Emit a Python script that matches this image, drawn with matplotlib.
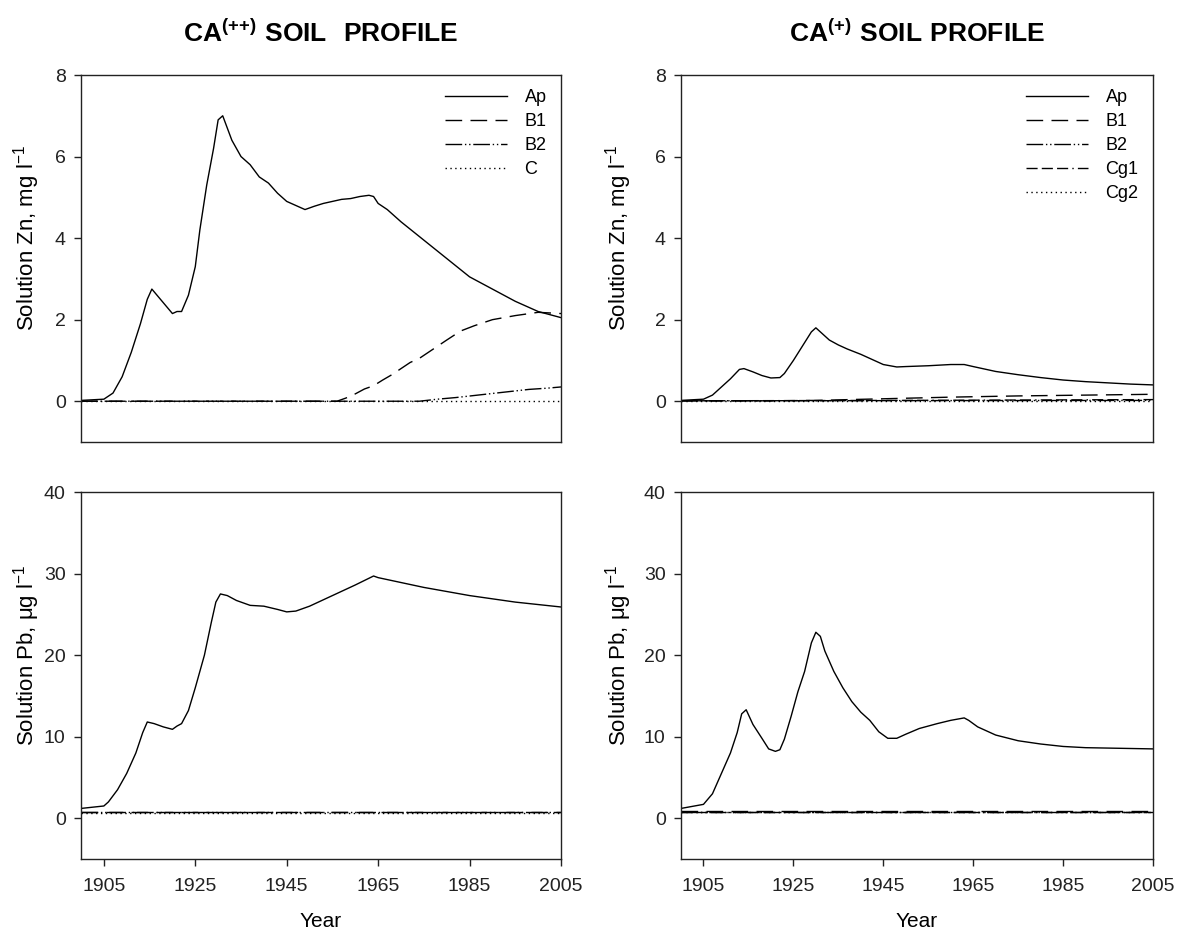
import matplotlib
matplotlib.use("Agg")
import matplotlib.pyplot as plt

plt.rcParams["font.family"] = ["Liberation Sans", "DejaVu Sans"]
plt.rcParams["mathtext.fontset"] = "custom"
plt.rcParams["mathtext.rm"] = "Liberation Sans"
plt.rcParams["mathtext.bf"] = "Liberation Sans:bold"

# ── Data ──────────────────────────────────────────────────────────────────────

# CA(++) – solution Zn, Ap horizon
zn_pp_ap_year = [1900, 1905, 1907, 1909, 1911, 1913, 1914.5, 1915.5, 1917, 1918.5,
                 1920, 1921, 1922, 1923.5, 1925, 1926, 1927.5, 1929, 1930, 1931,
                 1932, 1933, 1935, 1937, 1939, 1941, 1943, 1945, 1947, 1949, 1951,
                 1953, 1955, 1957, 1959, 1961, 1963, 1964, 1965, 1967, 1970, 1975,
                 1980, 1985, 1990, 1995, 2000, 2005]
zn_pp_ap = [0.02, 0.05, 0.2, 0.6, 1.2, 1.9, 2.5, 2.75, 2.55, 2.35,
            2.15, 2.2, 2.2, 2.6, 3.3, 4.2, 5.3, 6.2, 6.9, 7.0,
            6.7, 6.4, 6.0, 5.8, 5.5, 5.35, 5.1, 4.9, 4.8, 4.7, 4.78,
            4.85, 4.9, 4.95, 4.97, 5.02, 5.05, 5.02, 4.85, 4.7, 4.4, 3.95,
            3.5, 3.05, 2.75, 2.45, 2.2, 2.05]
zn_pp_b1_year = [1900, 1956, 1958, 1960, 1962, 1964, 1966, 1968, 1970, 1972, 1974,
                 1976, 1978, 1980, 1983, 1986, 1990, 1995, 2000, 2005]
zn_pp_b1 = [0.0, 0.0, 0.08, 0.18, 0.3, 0.38, 0.52, 0.65, 0.8, 0.95, 1.05,
            1.2, 1.35, 1.5, 1.72, 1.85, 2.0, 2.1, 2.18, 2.15]
zn_pp_b2_year = [1900, 1974, 1978, 1982, 1986, 1990, 1994, 1998, 2002, 2005]
zn_pp_b2 = [0.0, 0.0, 0.05, 0.09, 0.14, 0.19, 0.24, 0.29, 0.32, 0.35]
zn_pp_c_year = [1900, 2005]
zn_pp_c = [0.0, 0.0]

# CA(+) – solution Zn
zn_p_ap_year = [1900, 1905, 1907, 1909, 1911, 1913, 1914, 1916, 1918, 1920, 1922,
                1923, 1925, 1927, 1929, 1930, 1931, 1933, 1935, 1937, 1940, 1943,
                1945, 1948, 1950, 1955, 1960, 1963, 1965, 1970, 1975, 1980, 1985,
                1990, 1995, 2000, 2005]
zn_p_ap = [0.02, 0.05, 0.15, 0.35, 0.55, 0.78, 0.8, 0.72, 0.63, 0.57, 0.58,
           0.68, 1.0, 1.35, 1.7, 1.8, 1.7, 1.5, 1.38, 1.28, 1.15, 1.0,
           0.9, 0.84, 0.85, 0.87, 0.9, 0.9, 0.85, 0.73, 0.65, 0.58, 0.52,
           0.48, 0.45, 0.42, 0.4]
zn_p_b1_year = [1900, 1920, 1930, 1945, 1960, 1975, 1990, 2005]
zn_p_b1 = [0.01, 0.01, 0.02, 0.06, 0.1, 0.13, 0.15, 0.17]
zn_p_b2_year = [1900, 2005]
zn_p_b2 = [0.01, 0.02]
zn_p_cg1_year = [1900, 1950, 2005]
zn_p_cg1 = [0.01, 0.02, 0.04]
zn_p_cg2_year = [1900, 2005]
zn_p_cg2 = [0.0, 0.0]

# CA(++) – solution Pb
pb_pp_ap_year = [1900, 1905, 1906, 1908, 1910, 1912, 1913.5, 1914.5, 1916, 1918,
                 1920, 1921, 1922, 1923.5, 1925, 1927, 1928.5, 1929.5, 1930.5, 1932,
                 1934, 1937, 1940, 1943, 1945, 1947, 1950, 1955, 1960, 1964, 1965,
                 1970, 1975, 1980, 1985, 1990, 1995, 2000, 2005]
pb_pp_ap = [1.2, 1.5, 2.0, 3.5, 5.5, 8.0, 10.5, 11.8, 11.6, 11.2,
            10.9, 11.3, 11.6, 13.2, 16.0, 20.0, 24.0, 26.5, 27.5, 27.3,
            26.7, 26.1, 26.0, 25.6, 25.3, 25.4, 26.0, 27.3, 28.6, 29.7, 29.5,
            28.9, 28.3, 27.8, 27.3, 26.9, 26.5, 26.2, 25.9]
pb_pp_low_year = [1900, 2005]
pb_pp_b1 = [0.75, 0.75]
pb_pp_b2 = [0.75, 0.75]
pb_pp_c = [0.7, 0.7]

# CA(+) – solution Pb
pb_p_ap_year = [1900, 1905, 1907, 1909, 1911, 1912.5, 1913.5, 1914.5, 1916, 1918,
                1919.5, 1921, 1922, 1923, 1924.5, 1926, 1927.5, 1929, 1930, 1931,
                1932, 1934, 1936, 1938, 1940, 1942, 1944, 1946, 1948, 1950, 1953,
                1957, 1960, 1963, 1964, 1966, 1970, 1975, 1980, 1985, 1990, 1995,
                2000, 2005]
pb_p_ap = [1.2, 1.7, 3.0, 5.5, 8.0, 10.5, 12.8, 13.3, 11.5, 9.8,
           8.5, 8.2, 8.4, 9.7, 12.5, 15.5, 18.0, 21.5, 22.8, 22.3,
           20.5, 18.0, 16.0, 14.3, 13.0, 12.0, 10.6, 9.8, 9.8, 10.3, 11.0,
           11.6, 12.0, 12.3, 12.0, 11.2, 10.2, 9.5, 9.1, 8.8, 8.65, 8.6,
           8.55, 8.5]
pb_p_low_year = [1900, 2005]
pb_p_b1 = [0.85, 0.85]
pb_p_b2 = [0.8, 0.8]
pb_p_cg1 = [0.8, 0.8]
pb_p_cg2 = [0.75, 0.75]

year_ticks = [1905, 1925, 1945, 1965, 1985, 2005]

# ── Line styles ───────────────────────────────────────────────────────────────

STY = {
    "Ap":  "-",
    "B1":  (0, (12, 6)),
    "B2":  (0, (12, 2, 1, 2, 1, 2)),
    "C":   (0, (1, 2.5)),
    "Cg1": (0, (8, 3, 8, 3, 8, 3, 1, 3)),
    "Cg2": (0, (1, 2.5)),
}

fig = plt.figure(figsize=(11.81, 9.32), dpi=100)
W, H = 1181, 932


def make_ax(x0, x1, y0, y1):
    return fig.add_axes([x0 / W, 1 - y1 / H, (x1 - x0) / W, (y1 - y0) / H])


ax_zn_pp = make_ax(81, 561, 75, 442)
ax_zn_p = make_ax(681, 1153, 75, 442)
ax_pb_pp = make_ax(81, 561, 492, 859)
ax_pb_p = make_ax(681, 1153, 492, 859)

lw = 1.0
c = "black"

# Zn panels
ax_zn_pp.plot(zn_pp_ap_year, zn_pp_ap, color=c, lw=lw, ls=STY["Ap"], label="Ap")
ax_zn_pp.plot(zn_pp_b1_year, zn_pp_b1, color=c, lw=lw, ls=STY["B1"], label="B1")
ax_zn_pp.plot(zn_pp_b2_year, zn_pp_b2, color=c, lw=lw, ls=STY["B2"], label="B2")
ax_zn_pp.plot(zn_pp_c_year, zn_pp_c, color=c, lw=lw, ls=STY["C"], label="C")

ax_zn_p.plot(zn_p_ap_year, zn_p_ap, color=c, lw=lw, ls=STY["Ap"], label="Ap")
ax_zn_p.plot(zn_p_b1_year, zn_p_b1, color=c, lw=lw, ls=STY["B1"], label="B1")
ax_zn_p.plot(zn_p_b2_year, zn_p_b2, color=c, lw=lw, ls=STY["B2"], label="B2")
ax_zn_p.plot(zn_p_cg1_year, zn_p_cg1, color=c, lw=lw, ls=STY["Cg1"], label="Cg1")
ax_zn_p.plot(zn_p_cg2_year, zn_p_cg2, color=c, lw=lw, ls=STY["Cg2"], label="Cg2")

# Pb panels
ax_pb_pp.plot(pb_pp_ap_year, pb_pp_ap, color=c, lw=lw, ls=STY["Ap"])
ax_pb_pp.plot(pb_pp_low_year, pb_pp_b1, color=c, lw=lw, ls=STY["B1"])
ax_pb_pp.plot(pb_pp_low_year, pb_pp_b2, color=c, lw=lw, ls=STY["B2"])
ax_pb_pp.plot(pb_pp_low_year, pb_pp_c, color=c, lw=lw, ls=STY["C"])

ax_pb_p.plot(pb_p_ap_year, pb_p_ap, color=c, lw=lw, ls=STY["Ap"])
ax_pb_p.plot(pb_p_low_year, pb_p_b1, color=c, lw=lw, ls=STY["B1"])
ax_pb_p.plot(pb_p_low_year, pb_p_b2, color=c, lw=lw, ls=STY["B2"])
ax_pb_p.plot(pb_p_low_year, pb_p_cg1, color=c, lw=lw, ls=STY["Cg1"])
ax_pb_p.plot(pb_p_low_year, pb_p_cg2, color=c, lw=lw, ls=STY["Cg2"])

for ax in (ax_zn_pp, ax_zn_p):
    ax.set_xlim(1900, 2005)
    ax.set_ylim(-1, 8)
    ax.set_yticks([0, 2, 4, 6, 8])
    ax.set_xticks([])
    ax.set_ylabel("Solution Zn, mg l$^{-1}$", fontsize=16)
    ax.legend(loc="upper right", frameon=False, fontsize=13,
              handlelength=3.4, handletextpad=1.0, labelspacing=0.38,
              borderaxespad=0.4)

for ax in (ax_pb_pp, ax_pb_p):
    ax.set_xlim(1900, 2005)
    ax.set_ylim(-5, 40)
    ax.set_yticks([0, 10, 20, 30, 40])
    ax.set_xticks(year_ticks)
    ax.set_ylabel("Solution Pb, \u03bcg l$^{-1}$", fontsize=16)
    ax.set_xlabel("Year", fontsize=15, labelpad=12)

# y labels centred on the labelled tick range (SigmaPlot style)
for ax in (ax_zn_pp, ax_pb_pp):
    ax.yaxis.set_label_coords(-0.082, 0.5556)
for ax in (ax_zn_p, ax_pb_p):
    ax.yaxis.set_label_coords(-0.1, 0.5556)

for ax in (ax_zn_pp, ax_zn_p, ax_pb_pp, ax_pb_p):
    ax.tick_params(direction="out", length=5, width=1, labelsize=14,
                   colors="#222222")
    ax.tick_params(axis="x", pad=9)
    ax.tick_params(axis="y", pad=6)
    for sp in ax.spines.values():
        sp.set_linewidth(1.0)
        sp.set_color("#222222")

ax_zn_pp.set_title(r"$\mathbf{CA^{({+}{+})}\ SOIL\ \ PROFILE}$", fontsize=19, pad=24)
ax_zn_p.set_title(r"$\mathbf{CA^{({+})}\ SOIL\ PROFILE}$", fontsize=19, pad=24)

fig.savefig("out.png", dpi=100)
